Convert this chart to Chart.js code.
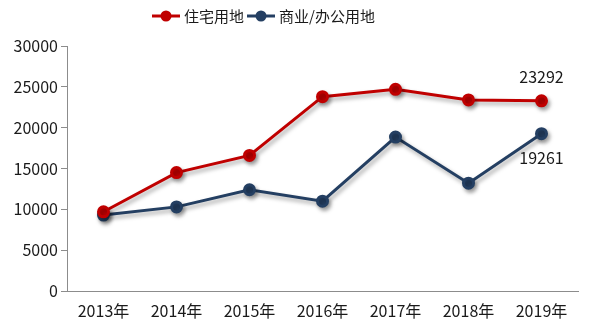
<!DOCTYPE html>
<html>
<head>
<meta charset="utf-8">
<script src="https://cdn.jsdelivr.net/npm/chart.js@4"></script>
<style>
  body { margin: 0; background: #fff; }
  #wrap { width: 593px; height: 326px; }
</style>
</head>
<body>
<div id="wrap"><canvas id="myChart" width="593" height="326"></canvas></div>
<script>
const years = ['2013年', '2014年', '2015年', '2016年', '2017年', '2018年', '2019年'];
const residential = [9700, 14500, 16600, 23800, 24700, 23400, 23292];
const commercial = [9300, 10300, 12400, 11000, 18850, 13200, 19261];
const seriesNames = ['住宅用地', '商业/办公用地'];
const yTicks = [0, 5000, 10000, 15000, 20000, 25000, 30000];

const RED = '#C00000';
const BLUE = '#243F62';
const FONT = '"Noto Sans CJK SC", "Noto Sans", sans-serif';

// soft shadow under the lines
const shadowPlugin = {
    id: 'shadow',
    beforeDatasetDraw(chart) {
        const ctx = chart.ctx;
        ctx.save();
        ctx.shadowColor = 'rgba(0,0,0,0.35)';
        ctx.shadowBlur = 4;
        ctx.shadowOffsetX = 2;
        ctx.shadowOffsetY = 3;
    },
    afterDatasetDraw(chart) {
        chart.ctx.restore();
    }
};

// legend + the two value labels on the last points
const extrasPlugin = {
    id: 'extras',
    afterDraw(chart) {
        const ctx = chart.ctx;
        ctx.save();
        ctx.textBaseline = 'middle';
        ctx.fillStyle = '#1a1a1a';

        // legend
        ctx.font = '15px ' + FONT;
        let x = 152;
        const y = 16;
        chart.data.datasets.forEach((ds, i) => {
            ctx.strokeStyle = ds.borderColor;
            ctx.lineWidth = 3;
            ctx.beginPath();
            ctx.moveTo(x, y);
            ctx.lineTo(x + 28, y);
            ctx.stroke();
            ctx.fillStyle = ds.borderColor;
            ctx.beginPath();
            ctx.arc(x + 14, y, 5.5, 0, Math.PI * 2);
            ctx.fill();
            ctx.fillStyle = '#1a1a1a';
            ctx.textAlign = 'left';
            ctx.fillText(ds.label, x + 32, y);
            x += 32 + ctx.measureText(ds.label).width + 3;
        });

        // value labels
        ctx.font = '16px ' + FONT;
        ctx.textAlign = 'center';
        const last = years.length - 1;
        const p0 = chart.getDatasetMeta(0).data[last];
        const p1 = chart.getDatasetMeta(1).data[last];
        ctx.fillText(String(residential[last]), p0.x, p0.y - 24);
        ctx.fillText(String(commercial[last]), p1.x, p1.y + 24);
        ctx.restore();
    }
};

const ctx = document.getElementById('myChart').getContext('2d');
const myChart = new Chart(ctx, {
    type: 'line',
    data: {
        labels: years,
        datasets: [{
            label: seriesNames[0],
            data: residential,
            borderColor: RED,
            backgroundColor: RED,
            borderWidth: 3,
            pointRadius: 5,
            pointHoverRadius: 5,
            tension: 0
        }, {
            label: seriesNames[1],
            data: commercial,
            borderColor: BLUE,
            backgroundColor: BLUE,
            borderWidth: 3,
            pointRadius: 5,
            pointHoverRadius: 5,
            tension: 0
        }]
    },
    options: {
        responsive: false,
        animation: false,
        layout: { padding: { top: 46, right: 15, left: 0, bottom: 0 } },
        plugins: {
            legend: { display: false },
            tooltip: { enabled: false }
        },
        scales: {
            x: {
                offset: true,
                grid: { display: false, drawTicks: false },
                border: { display: true, color: '#8c8c8c', width: 1 },
                ticks: { color: '#1a1a1a', font: { size: 16, family: FONT }, padding: 10, maxRotation: 0 },
                afterFit(scale) { scale.height = 35; }
            },
            y: {
                min: 0,
                max: 30000,
                grid: { drawOnChartArea: false, drawTicks: true, tickLength: 6, color: '#8c8c8c' },
                border: { display: true, color: '#8c8c8c', width: 1 },
                afterBuildTicks(scale) { scale.ticks = yTicks.map(v => ({ value: v })); },
                ticks: {
                    color: '#1a1a1a',
                    font: { size: 16, family: FONT },
                    padding: 3,
                    callback: v => String(v)
                },
                afterFit(scale) { scale.width = 67; }
            }
        }
    },
    plugins: [shadowPlugin, extrasPlugin]
});
</script>
</body>
</html>
